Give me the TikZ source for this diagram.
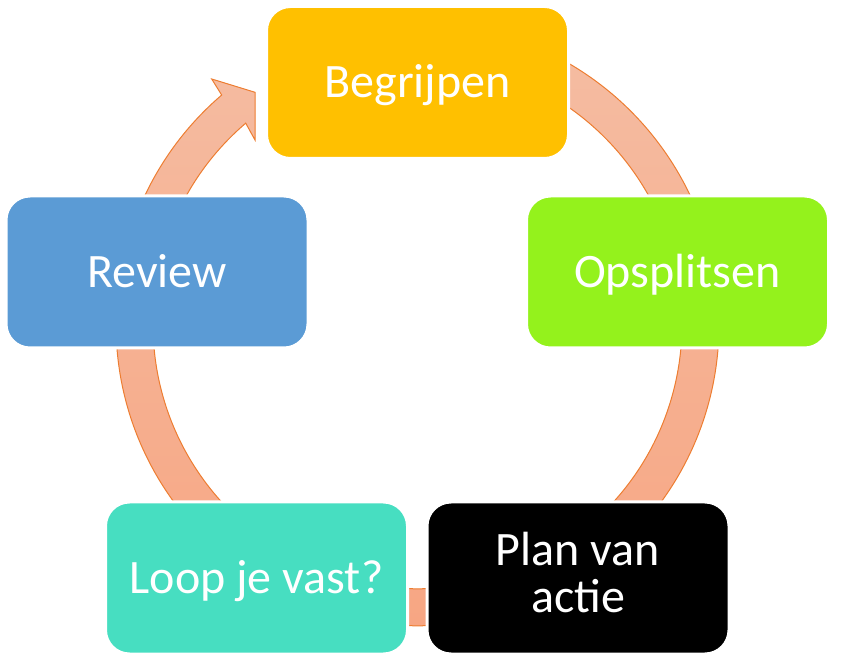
\documentclass[tikz,border=0pt]{standalone}
\usepackage{fontspec}
\setmainfont{Carlito}
\definecolor{cBeg}{HTML}{FFC000}
\definecolor{cOps}{HTML}{94F21C}
\definecolor{cRev}{HTML}{5B9BD5}
\definecolor{cLoop}{HTML}{47DEC1}
\definecolor{cBandTop}{HTML}{F5BDA3}
\definecolor{cBandBot}{HTML}{F7A683}
\definecolor{cBandLine}{HTML}{ED7D31}
\begin{document}
\begin{tikzpicture}[x=0.5pt,y=0.5pt,
  box/.style={draw=white, line width=1.5pt, rounded corners=12pt,
    minimum width=151pt, minimum height=76pt, inner sep=0pt,
    text height=18pt, text depth=2.5pt,
    text=white, align=center, font=\fontsize{24}{23.5}\selectfont},
  band/.style={top color=cBandTop, bottom color=cBandBot, draw=cBandLine, line width=0.5pt}]
\useasboundingbox (0,0) rectangle (845,-656);
% circular band with arrowhead
\path[band] ([shift={(417.5,-324.3)}]90:301.5)
  arc[start angle=90, end angle=-229.5, radius=301.5]
  -- (211.7,-79) -- (255,-92.3) -- (255,-140)
  -- ([shift={(417.5,-324.3)}]130.5:264.5)
  arc[start angle=130.5, end angle=450, radius=264.5] -- cycle;
% boxes
\node[box, fill=cBeg] (beg) at (417.5,-82.5) {Begrijpen};
\node[box, fill=cOps] (ops) at (677.5,-272) {Opsplitsen};
\node[box, fill=cRev] (rev) at (157,-272) {Review};
\node[box, fill=cLoop] (loop) at (256.5,-578) {Loop je vast?};
\node[box, fill=black, text height=36.5pt, text depth=2.5pt] (plan) at (578,-578) {Plan van\\actie};
\end{tikzpicture}
\end{document}
